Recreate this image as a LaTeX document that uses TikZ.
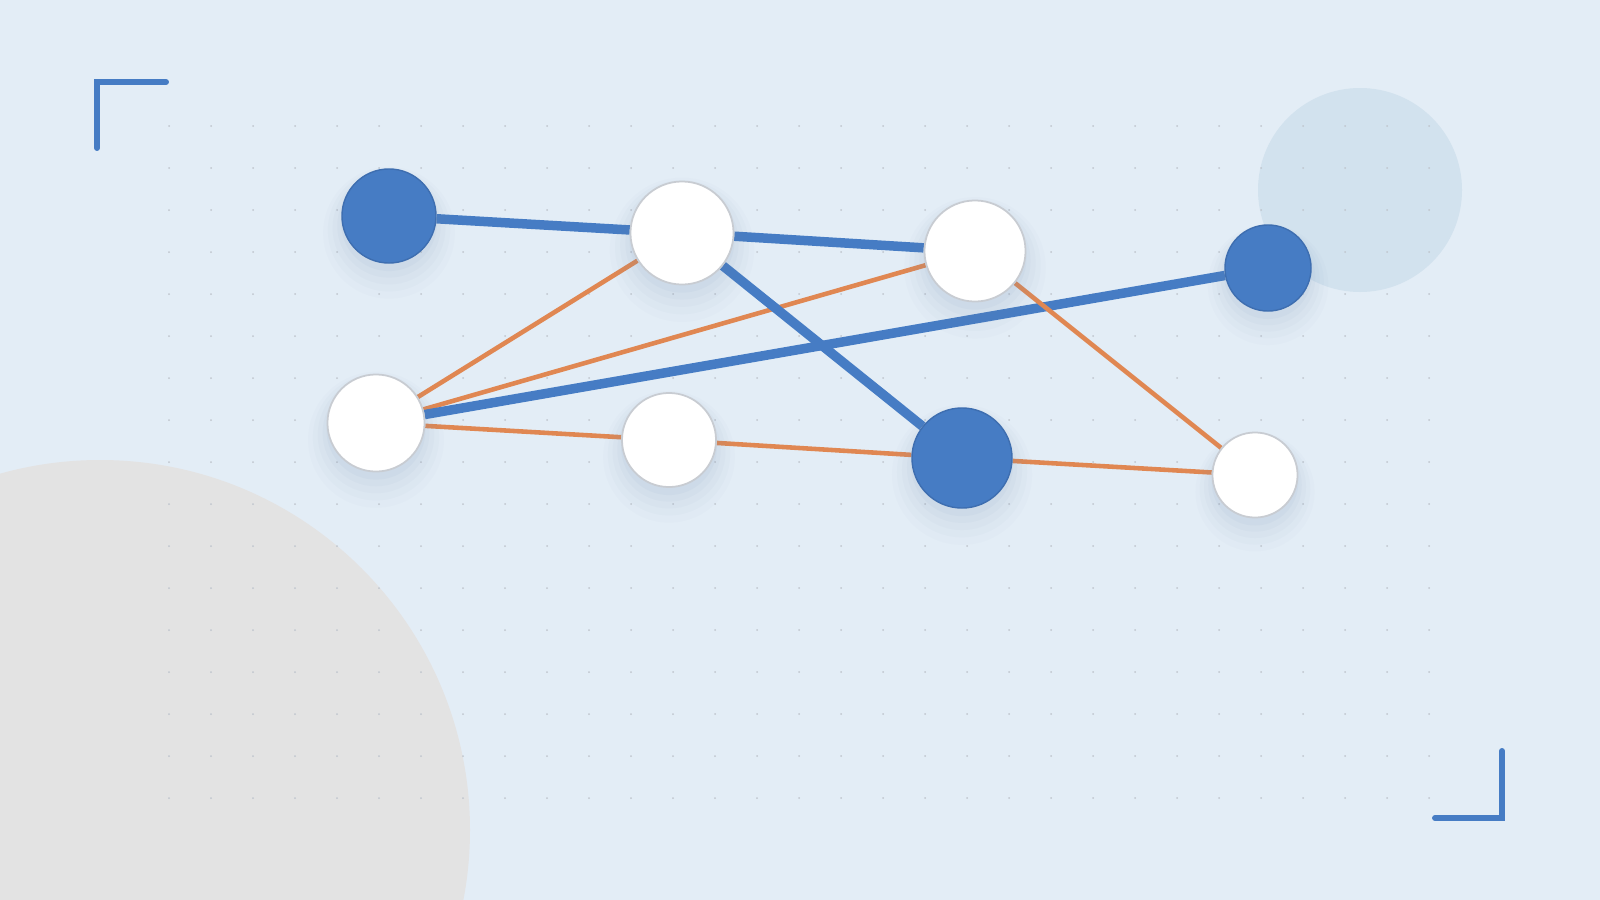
\documentclass[tikz,border=0pt]{standalone}
\usepackage{tikz}
\usepackage{xcolor}
\usetikzlibrary{shadows}

\definecolor{pagebg}{RGB}{227,237,246}
\definecolor{hubblue}{RGB}{70,124,196}
\definecolor{hubrim}{RGB}{62,110,176}
\definecolor{linkorange}{RGB}{224,135,82}
\definecolor{leafrim}{RGB}{200,204,210}
\definecolor{blobgray}{RGB}{227,227,227}
\definecolor{blobblue}{RGB}{210,226,238}
\definecolor{gridgray}{RGB}{192,198,206}
\definecolor{shadeblue}{RGB}{110,140,180}

\pgfdeclarelayer{back}
\pgfdeclarelayer{links}
\pgfsetlayers{back,links,main}

\begin{document}
\begin{tikzpicture}[x=0.01cm,y=-0.01cm,
    soft/.style={
        general shadow={fill=shadeblue,fill opacity=0.025,shadow scale=1.4,shadow yshift=-0.12cm},
        general shadow={fill=shadeblue,fill opacity=0.03,shadow scale=1.3,shadow yshift=-0.11cm},
        general shadow={fill=shadeblue,fill opacity=0.035,shadow scale=1.2,shadow yshift=-0.1cm},
        general shadow={fill=shadeblue,fill opacity=0.045,shadow scale=1.1,shadow yshift=-0.09cm},
        general shadow={fill=shadeblue,fill opacity=0.05,shadow scale=1.02,shadow yshift=-0.07cm}},
    hub/.style={soft,circle,fill=hubblue,draw=hubrim,line width=0.4pt,inner sep=0pt},
    leaf/.style={soft,circle,fill=white,draw=leafrim,line width=0.5pt,inner sep=0pt},
    strong/.style={draw=hubblue,line width=2.7pt},
    weak/.style={draw=linkorange,line width=1.3pt},
    bracket/.style={draw=hubblue,line width=1.7pt,line cap=round,line join=miter}]
    \useasboundingbox (0,0) rectangle (1600,900);
    \begin{pgfonlayer}{back}
        \fill[pagebg] (0,0) rectangle (1600,900);
        \begin{scope}
            \clip (0,0) rectangle (1600,900);
            \fill[blobgray] (100,830) circle (370);
        \end{scope}
        \fill[blobblue] (1360,190) circle (102);
        \foreach \i in {0,...,30}
            \foreach \j in {0,...,16}
                \fill[gridgray] (169+42*\i,126+42*\j) circle (1);
        \draw[bracket] (97,148) -- (97,82) -- (166,82);
        \draw[bracket] (1435,818) -- (1502,818) -- (1502,751);
    \end{pgfonlayer}
    \node[hub,minimum size=0.94cm] (a) at (389,216) {};
    \node[leaf,minimum size=1.03cm] (b) at (682,233) {};
    \node[leaf,minimum size=1.01cm] (c) at (975,251) {};
    \node[hub,minimum size=0.86cm] (d) at (1268,268) {};
    \node[leaf,minimum size=0.97cm] (e) at (376,423) {};
    \node[leaf,minimum size=0.94cm] (f) at (669,440) {};
    \node[hub,minimum size=1.00cm] (g) at (962,458) {};
    \node[leaf,minimum size=0.85cm] (h) at (1255,475) {};
    \begin{pgfonlayer}{links}
        \draw[strong] (a) -- (b);
        \draw[strong] (b) -- (c);
        \draw[weak] (e) -- (b);
        \draw[weak] (e) -- (c);
        \draw[strong] (b) -- (g);
        \draw[strong] (e) -- (d);
        \draw[weak] (e) -- (f);
        \draw[weak] (f) -- (g);
        \draw[weak] (g) -- (h);
        \draw[weak] (c) -- (h);
    \end{pgfonlayer}
\end{tikzpicture}
\end{document}
